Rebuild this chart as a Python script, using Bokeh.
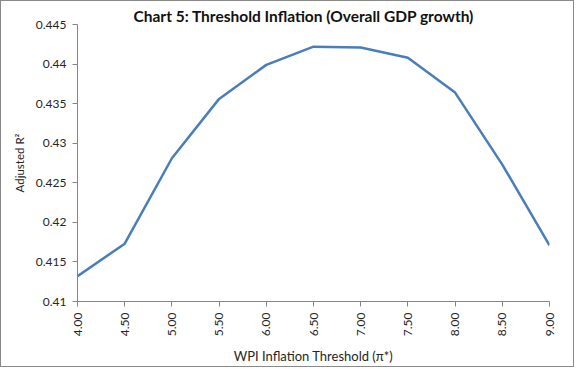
from bokeh.plotting import figure
from bokeh.models import FixedTicker, Range1d, ColumnDataSource
from bokeh.embed import file_html
from bokeh.resources import INLINE
import math

thresholds = [4.0, 4.5, 5.0, 5.5, 6.0, 6.5, 7.0, 7.5, 8.0, 8.5, 9.0]
adj_r2 = [0.4132, 0.4173, 0.4281, 0.4356, 0.4399, 0.4422, 0.4421, 0.4408, 0.4364, 0.4273, 0.4171]
x_ticks = [4.0, 4.5, 5.0, 5.5, 6.0, 6.5, 7.0, 7.5, 8.0, 8.5, 9.0]
x_tick_labels = ["4.00", "4.50", "5.00", "5.50", "6.00", "6.50", "7.00", "7.50", "8.00", "8.50", "9.00"]
y_ticks = [0.41, 0.415, 0.42, 0.425, 0.43, 0.435, 0.44, 0.445]
y_tick_labels = ["0.41", "0.415", "0.42", "0.425", "0.43", "0.435", "0.44", "0.445"]
title_text = "Chart 5: Threshold Inflation (Overall GDP growth)"

FONT = "Lato"
AXIS_COL = "#868686"
TEXT_COL = "#262626"

p = figure(width=574, height=367, output_backend="svg", toolbar_location=None,
           x_range=Range1d(4.0, 9.0), y_range=Range1d(0.41, 0.445),
           min_border_left=76, min_border_right=26, min_border_top=23, min_border_bottom=67,
           title=title_text)
p.styles = {"border": "1px solid #8a8a8a"}
p.outline_line_color = None
p.xgrid.grid_line_color = None
p.ygrid.grid_line_color = None
p.background_fill_color = "white"
p.border_fill_color = "white"

p.title.text_font = FONT
p.title.text_font_style = "bold"
p.title.text_font_size = "15.5px"
p.title.text_color = "#111111"
p.title.align = "left"
p.title.offset = 56
p.title.standoff = 0

src = ColumnDataSource(dict(x=thresholds, y=adj_r2))
p.line("x", "y", source=src, line_color="#4A7EBB", line_width=2.5)

# axes
p.xaxis.ticker = FixedTicker(ticks=x_ticks)
p.xaxis.major_label_overrides = {t: l for t, l in zip(x_ticks, x_tick_labels)}
p.xaxis.major_label_orientation = math.pi / 2
p.yaxis.ticker = FixedTicker(ticks=y_ticks)
p.yaxis.major_label_overrides = {t: l for t, l in zip(y_ticks, y_tick_labels)}

for ax in (p.xaxis, p.yaxis):
    ax.axis_line_color = AXIS_COL
    ax.major_tick_line_color = AXIS_COL
    ax.minor_tick_line_color = None
    ax.major_tick_in = 0
    ax.major_tick_out = 5
    ax.major_label_text_font = FONT
    ax.major_label_text_font_size = "12px"
    ax.major_label_text_color = TEXT_COL
    ax.axis_label_text_font = FONT
    ax.axis_label_text_font_style = "normal"
    ax.axis_label_text_color = TEXT_COL
    ax.major_label_standoff = 6

p.xaxis.axis_label = "WPI Inflation Threshold (π*)"
p.yaxis.axis_label = "Adjusted R²"
p.xaxis.axis_label_text_font_size = "13px"
p.yaxis.axis_label_text_font_size = "11.5px"
p.xaxis.axis_label_standoff = 9
p.yaxis.axis_label_standoff = 7

open("out.html", "w").write(file_html(p, INLINE))
